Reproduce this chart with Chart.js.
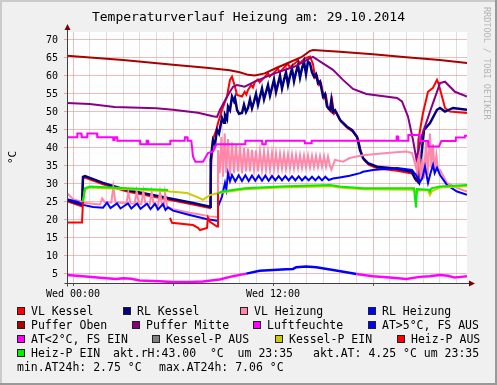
<!DOCTYPE html>
<html>
<head>
<meta charset="utf-8">
<script src="https://cdn.jsdelivr.net/npm/chart.js@4.4.1/dist/chart.umd.min.js"></script>
<style>
body { margin: 0; background: #f0f0f0; }
#wrap { position: relative; width: 497px; height: 385px; font-family: "DejaVu Sans Mono", monospace; }
#chartCanvas { position: absolute; left: 0; top: 0; }
#title { position: absolute; left: 0; top: 9px; width: 497px; text-align: center; font-size: 13px; line-height: 15px; color: #000; }
#side { position: absolute; left: 482px; top: 7px; writing-mode: vertical-rl; font-size: 8.5px; line-height: 9px; color: #b4b4b4; white-space: pre; }
.lg { position: absolute; font-size: 11.5px; line-height: 14px; white-space: pre; color: #000; }
.box { position: absolute; width: 6px; height: 6px; border: 1px solid #222; }
</style>
</head>
<body>
<div id="wrap">
  <canvas id="chartCanvas" width="497" height="385"></canvas>
  <div id="title">Temperaturverlauf Heizung am: 29.10.2014</div>
  <div id="side">RRDTOOL / TOBI OETIKER</div>
  <div id="legend"></div>
</div>
<script>
// time axis in hours since Wed 00:00
var xTickHours = [];
for (h = 0; h <= 23; h++) {
  xTickHours.push(h);
}
var xLabelHours = [0, 12];
var xLabelTexts = ["Wed 00:00", "Wed 12:00"];
var yTickValues = [5, 10, 15, 20, 25, 30, 35, 40, 45, 50, 55, 60, 65, 70];

var legendLabels = ["VL Kessel", "RL Kessel", "VL Heizung", "RL Heizung",
  "Puffer Oben", "Puffer Mitte", "Luftfeuchte", "AT>5°C, FS AUS",
  "AT<2°C, FS EIN", "Kessel-P AUS", "Kessel-P EIN", "Heiz-P AUS", "Heiz-P EIN"];
var legendColors = ["#ff0000", "#000080", "#ff88aa", "#0000ff",
  "#aa0000", "#880088", "#ff00ff", "#0000ff",
  "#ff00ff", "#808080", "#cccc00", "#ff0000", "#00ee00"];
var infoTexts = ["akt.rH:43.00  °C  um 23:35", "akt.AT: 4.25 °C um 23:35",
  "min.AT24h: 2.75 °C", "max.AT24h: 7.06 °C"];

// [hour, value]
var vlKessel = [[-0.36,25.2],[0.54,23.8],[0.6,31.6],[0.72,31.8],[1.8,29.9],[3.24,27.9],[5.22,26.1],[7.2,24.3],[8.22,23.3],
  [8.3,36],[8.4,42.5],[8.6,45],[8.7,46.9],[8.94,50.6],[9.24,54.3],[9.42,58.9],[9.54,59.8],[9.62,58.5],[9.72,57],[9.84,54.7],
  [10.14,54.3],[10.3,55.6],[10.4,54.8],[10.5,56.1],[10.7,57.5],[10.8,56.8],[10.92,58.4],[11.1,59],[11.2,58.2],[11.52,59.8],
  [11.7,60.8],[11.8,59.8],[12.12,61.2],[12.3,62],[12.4,61],[12.72,62.6],[12.9,63.4],[13.0,62.4],[13.32,63.5],[13.5,64.4],
  [13.6,63.5],[13.92,64.9],[14.22,65.4],[14.4,63.3],[14.52,59.5],[14.64,60],[14.76,57.5],[14.88,58],[15.06,53.8],[15.18,54.5],
  [15.3,51],[15.48,50.1],[15.56,52.8],[15.66,49.5],[15.78,50],[16.08,47.3],[16.5,45.4],[16.8,44.5],[17.1,42.6],[17.28,38.9],
  [17.46,36.7],[17.76,35.3],[18.3,34.3],[19.44,33.7],[20.34,32.9],[20.58,31],[20.66,31.5],[20.72,42.2],[21.0,49.7],[21.3,55.6],
  [21.6,56.7],[21.84,58.9],[21.92,58],[22.14,54.3],[22.32,51.1],[22.62,50.1],[23.64,49.7]];
var rlKessel = [[-0.36,25.6],[0.54,24.2],[0.6,32],[0.72,32.2],[1.8,30.3],[3.24,28.3],[5.22,26.5],[7.2,24.7],[8.22,23.7],
  [8.26,36.7],[8.4,42.2],[8.52,41],[8.64,45],[8.76,44],[8.94,48.3],[9.06,47],[9.12,49.2],[9.24,48],[9.3,51.5],[9.42,50.5],
  [9.54,54.3],[9.66,53],[9.72,53.9],[9.84,50.6],[9.96,49.5],[10.14,49.7],[10.26,52],[10.38,50],[10.5,51.1],[10.62,53.5],
  [10.74,51],[10.86,52.9],[10.98,55],[11.1,52],[11.22,54.3],[11.34,56.5],[11.46,53.5],[11.58,55.5],[11.7,57.5],[11.82,54.5],
  [11.94,56.7],[12.06,59],[12.18,55.5],[12.3,57.8],[12.42,60],[12.54,56.5],[12.66,58.9],[12.78,61],[12.9,57.5],[13.02,60],
  [13.14,62],[13.26,58.5],[13.38,61],[13.5,63],[13.62,59.5],[13.74,62.1],[13.86,64],[13.98,60.5],[14.1,64],[14.22,63.5],
  [14.34,61],[14.46,59.8],[14.58,60.5],[14.7,58],[14.82,58.5],[15.0,54.3],[15.12,55],[15.24,51.5],[15.42,50.6],[15.5,53.3],
  [15.6,50],[15.72,50.5],[16.02,47.8],[16.44,45.9],[16.74,45],[17.04,43.1],[17.22,39.4],[17.4,37.2],[17.7,35.8],[18.24,34.8],
  [19.44,34.2],[20.34,33.4],[20.52,31.6],[20.76,30.3],[20.88,37],[21.06,45],[21.42,46.9],[21.84,50.6],[22.02,51.1],
  [22.32,50.1],[22.8,51.1],[23.64,50.6]];
var vlHeizung = [[-0.36,27.5],[0,25.8],[0.54,25.1],[0.6,24.8],[1.2,24.5],[1.62,24.3],[1.75,26],[1.9,25],[2.3,24.8],[2.42,29.2],
  [2.55,24.9],[3.2,24.6],[3.32,27.6],[3.45,24.6],[3.7,24.5],[3.82,28],[3.95,24.5],[4.1,24.4],[4.22,28],[4.35,24.4],[4.6,24.3],
  [4.72,27.8],[4.85,24.2],[5.1,24],[5.22,27.8],[5.35,24],[5.45,23.9],[5.52,27.5],[5.65,23.6],[6.0,23],[7.0,22],[7.62,21.5],
  [8.22,21],[8.64,20.8],[8.7,39.4],[8.8,33],[8.9,43],[9.0,32],[9.1,44],[9.2,33],[9.3,42.5],[9.42,32.5],[9.54,41.5],[9.66,33],
  [9.78,41],[9.9,33.5],[10.02,40.5],[10.14,33],[10.26,40],[10.38,33.5],[10.5,39.8],[10.62,33.5],[10.74,39.5],[10.86,34],
  [10.98,39.3],[11.1,33.5],[11.22,39],[11.34,34],[11.46,39],[11.58,34],[11.7,38.8],[11.82,34],[11.94,38.6],[12.06,34.2],
  [12.18,38.5],[12.3,34.2],[12.42,38.4],[12.54,34.3],[12.66,38.3],[12.78,34.3],[12.9,38.2],[13.02,34.4],[13.14,38.1],
  [13.26,34.4],[13.38,38],[13.5,34.5],[13.62,38],[13.74,34.5],[13.86,37.9],[13.98,34.6],[14.1,37.9],[14.22,34.6],[14.34,37.8],
  [14.46,34.7],[14.58,37.8],[14.7,34.7],[14.82,37.7],[14.94,34.8],[15.06,37.7],[15.18,34.8],[15.3,37.6],[15.42,35],[15.5,34],
  [15.72,36.7],[16.2,36.2],[16.6,37.2],[17.4,38],[19.0,38.7],[20.0,39],[20.34,38.6],[20.46,36.7],[20.64,33.5],[20.76,40],
  [20.86,31],[20.96,37],[21.06,31.5],[21.18,42],[21.28,32.5],[21.42,44],[21.5,34.5],[21.6,41],[21.7,33.5],[21.8,38],[21.9,34],
  [22.02,33.9],[22.44,30.3],[23.04,28.9],[23.64,27.9]];
var rlHeizung = [[-0.36,25.8],[0.3,25],[0.6,24.2],[1.2,23.6],[1.8,23.4],[2.04,24.8],[2.25,23.3],[2.64,24.6],[2.85,23.2],
  [3.3,24.6],[3.5,23.2],[3.84,24.6],[4.05,23.1],[4.44,24.5],[4.65,23],[4.92,24.5],[5.1,22.9],[5.4,24.4],[5.55,22.8],[5.7,23.5],
  [6.0,22.6],[7.0,21.4],[8.0,20.3],[8.64,19.8],[8.7,23.7],[8.94,26.5],[9.12,30.3],[9.2,28.5],[9.3,33],[9.42,30.8],[9.54,32.5],
  [9.74,30.7],[9.94,32.4],[10.14,30.8],[10.34,32.4],[10.54,30.8],[10.74,32.3],[10.94,30.9],[11.14,32.3],[11.34,30.9],
  [11.54,32.3],[11.74,30.9],[11.94,32.2],[12.14,31],[12.34,32.2],[12.54,31],[12.74,32.2],[12.94,31],[13.14,32.1],[13.34,31],
  [13.54,32.1],[13.74,31],[13.94,32],[14.14,31],[14.34,32],[14.54,31],[14.74,32],[14.94,31],[15.14,32],[15.34,31.1],
  [15.6,31.5],[16.0,31.8],[16.6,32.3],[17.22,33],[17.4,33.4],[18.0,33.9],[19.44,34.4],[20.34,33.9],[20.58,32.5],[20.82,30.6],
  [20.95,31.5],[21.12,34.8],[21.3,30.3],[21.45,33],[21.6,35.3],[21.7,33],[21.84,34.5],[22.02,32.5],[22.44,29.7],[23.04,27.9],
  [23.64,27]];
var pufferOben = [[-0.36,65.6],[3,64.4],[6,63.1],[8,62.3],[9.4,61.6],[10,61],[10.5,60.3],[10.9,60.1],[11.5,60.7],[12.2,62.2],
  [13,63.8],[13.7,65.2],[14.2,66.9],[14.4,67.2],[16,66.7],[18,66],[20,65.2],[22,64.4],[23.64,63.6]];
var pufferMitte = [[-0.36,52.5],[1,52.2],[2.5,51.4],[5,51],[6,50.6],[7.5,49.8],[8.4,48.8],[8.64,48.6],[8.82,50.6],[9.3,54.7],
  [9.6,57],[9.84,57.5],[10.3,57],[10.9,58.4],[12.1,60.7],[13.3,62.6],[14.2,64.9],[14.4,65.3],[15.0,63.5],[15.6,61.7],
  [16.2,58.9],[16.8,56.4],[17.6,55],[19.44,53.9],[19.74,52.9],[20.1,48.7],[20.4,42.2],[20.6,37],[20.76,40],[20.9,43],
  [21.42,50.1],[22.02,58],[22.32,58.4],[22.92,55.6],[23.64,54.3]];
var luftfeuchte = [[-0.36,43],[0.24,43],[0.26,44],[0.5,44],[0.52,43],[0.84,43],[0.86,44],[1.44,44],[1.46,43],[2.4,43],
  [2.42,42.2],[2.5,42.2],[2.52,43],[2.64,43],[2.66,42],[4.02,42],[4.04,41],[4.4,41],[4.42,42],[4.5,42],[4.52,41],[5.82,41],
  [5.84,42],[6.7,42],[6.72,43],[6.86,43],[6.88,42],[7.1,42],[7.2,37.6],[7.34,36.2],[7.8,36.2],[8.1,38.6],[8.4,39],[8.6,41],
  [10.32,41],[10.34,42],[11.34,42],[11.36,41],[11.56,41],[11.58,42],[13.9,42],[13.92,41.3],[14.3,41.3],[14.32,42],[19.4,42],
  [19.42,43.2],[19.5,43.2],[19.52,42],[20.1,42],[20.12,43.6],[20.8,43.6],[20.82,41.9],[21.3,41.9],[21.32,40.4],[21.96,40.4],
  [22.1,41.9],[22.96,41.9],[22.98,42.9],[23.5,42.9],[23.52,43.4],[23.64,43.4]];
var aussenTemp = [[-0.36,4.7],[0.6,4.4],[1.8,3.9],[2.6,3.6],[3.0,3.8],[3.5,3.7],[4.0,3.2],[5.2,3.0],[6.0,2.75],[7.0,2.8],
  [7.8,2.95],[8.8,3.5],[9.6,4.4],[10.4,5.1],[11.2,5.9],[12.0,6.1],[12.8,6.3],[13.2,6.4],[13.4,6.9],[14.0,7.06],[14.6,6.9],
  [15.6,6.1],[16.4,5.5],[17.0,5.0],[18.0,4.4],[19.0,4.0],[20.0,3.6],[20.8,4.2],[21.4,4.4],[22.0,4.7],[22.5,4.5],[22.9,4.0],
  [23.3,4.2],[23.64,4.4]];
var kesselPEin = [[0.6,25],[0.72,28.5],[1.02,29],[3.24,28.5],[5.7,28],[5.82,27.9],[6.84,27.5],[7.5,26.3],[7.8,25.6],[7.92,26],
  [8.22,26.9],[8.64,27.4],[8.94,27.6],[10.32,28.5],[12.42,29],[15.42,29.4],[16,29],[17.4,28.5],[20.34,28.4],[20.52,28.2],
  [20.6,27.4],[20.7,28.2],[21.3,28.3],[21.42,26.9],[21.54,28],[22.02,29],[23.64,29.4]];
var kesselPAus = [];
// [hour, value, pump on]
var heizP = [[-0.36,19.3,0],[0.54,19.3,0],[0.6,25.1,1],[0.72,28.8,1],[1.02,29.3,1],[3.24,28.8,1],[5.7,28.3,1],[5.76,null,1],
  [5.82,20.6,0],[5.94,19.2,0],[7.2,18.6,0],[7.5,17.8,0],[7.62,17.2,0],[8.04,17.8,0],[8.1,20.6,0],[8.22,19.5,0],[8.64,18.2,0],
  [8.7,27.4,1],[8.94,27.9,1],[10.32,28.8,1],[12.42,29.3,1],[15.42,29.7,1],[16.0,29.3,1],[17.4,28.8,1],[20.46,28.8,1],
  [20.52,26,1],[20.58,23.5,1],[20.64,28.6,1],[21.36,28.4,1],[21.42,27.9,1],[21.5,28.8,1],[22.02,29.3,1],[23.64,29.7,1]];

// legend layout: [box x, row]
var legendPos = [[17,0],[123,0],[240,0],[368,0],[17,1],[132,1],[253,1],[368,1],[17,2],[152,2],[275,2],[397,2],[17,3]];
var infoPos = [[113,3],[313,3],[17,4],[159,4]];

var legendBox = document.getElementById("legend");
legendLabels.forEach(function (label, i) {
  var bx = legendPos[i][0], row = legendPos[i][1];
  var box = document.createElement("div");
  box.className = "box";
  box.style.left = bx + "px";
  box.style.top = (307 + row * 14) + "px";
  box.style.background = legendColors[i];
  legendBox.appendChild(box);
  var txt = document.createElement("div");
  txt.className = "lg";
  txt.style.left = (bx + 14) + "px";
  txt.style.top = (304 + row * 14) + "px";
  txt.textContent = label;
  legendBox.appendChild(txt);
});
infoTexts.forEach(function (t, i) {
  var txt = document.createElement("div");
  txt.className = "lg";
  txt.style.left = infoPos[i][0] + "px";
  txt.style.top = (304 + infoPos[i][1] * 14) + "px";
  txt.textContent = t;
  legendBox.appendChild(txt);
});

function toPoints(arr) {
  return arr.map(function (p) { return { x: p[0], y: p[1] }; });
}
function line(label, arr, color, width, extra) {
  return Object.assign({
    label: label,
    data: toPoints(arr),
    borderColor: color,
    backgroundColor: color,
    borderWidth: width,
    pointRadius: 0,
    tension: 0,
    fill: false
  }, extra || {});
}

var datasets = [
  line("VL Kessel", vlKessel, legendColors[0], 2),
  line("RL Kessel", rlKessel, legendColors[1], 2.5),
  line("VL Heizung", vlHeizung, legendColors[2], 2),
  line("RL Heizung", rlHeizung, legendColors[3], 2),
  line("Puffer Oben", pufferOben, legendColors[4], 2),
  line("Puffer Mitte", pufferMitte, legendColors[5], 2),
  line("Luftfeuchte", luftfeuchte, legendColors[6], 2),
  line("AT", aussenTemp, legendColors[8], 2.5, {
    segment: {
      borderColor: function (c) {
        return (c.p0.parsed.y + c.p1.parsed.y) / 2 >= 5 ? legendColors[7] : legendColors[8];
      }
    }
  }),
  line("Kessel-P AUS", kesselPAus, legendColors[9], 2),
  line("Kessel-P EIN", kesselPEin, legendColors[10], 2),
  line("Heiz-P", heizP, legendColors[12], 2, {
    segment: {
      borderColor: function (c) {
        return heizP[c.p0DataIndex][2] ? legendColors[12] : legendColors[11];
      }
    }
  })
];
// later legend entries are drawn on top
datasets.forEach(function (d, i) { d.order = datasets.length - i; });

var rrdFrame = {
  id: "rrdFrame",
  beforeDraw: function (chart) {
    var ctx = chart.ctx, a = chart.chartArea, w = chart.width, h = chart.height;
    ctx.save();
    ctx.fillStyle = "#f0f0f0";
    ctx.fillRect(0, 0, w, h);
    ctx.fillStyle = "#cbcbcb";
    ctx.fillRect(0, 0, w, 2);
    ctx.fillRect(0, 0, 2, h);
    ctx.fillStyle = "#999999";
    ctx.fillRect(0, h - 2, w, 2);
    ctx.fillRect(w - 2, 0, 2, h);
    ctx.fillStyle = "#ffffff";
    ctx.fillRect(a.left, a.top, a.right - a.left, a.bottom - a.top);
    ctx.restore();
  },
  afterDraw: function (chart) {
    var ctx = chart.ctx, a = chart.chartArea;
    var x0 = Math.round(a.left) + 0.5, y0 = Math.round(a.bottom) + 0.5;
    ctx.save();
    ctx.strokeStyle = "#404040";
    ctx.lineWidth = 1;
    ctx.beginPath();
    ctx.moveTo(x0, y0 + 3);
    ctx.lineTo(x0, a.top - 3);
    ctx.moveTo(x0 - 3, y0);
    ctx.lineTo(a.right + 3, y0);
    ctx.stroke();
    ctx.fillStyle = "#7f0000";
    ctx.beginPath();
    ctx.moveTo(x0, a.top - 8);
    ctx.lineTo(x0 - 3, a.top - 2);
    ctx.lineTo(x0 + 3, a.top - 2);
    ctx.closePath();
    ctx.fill();
    ctx.beginPath();
    ctx.moveTo(a.right + 8, y0);
    ctx.lineTo(a.right + 2, y0 - 3);
    ctx.lineTo(a.right + 2, y0 + 3);
    ctx.closePath();
    ctx.fill();
    ctx.restore();
  }
};

var monoFont = "'DejaVu Sans Mono', monospace";
var canvas = document.getElementById("chartCanvas");
var tempChart = new Chart(canvas, {
  type: "line",
  data: { datasets: datasets },
  options: {
    responsive: false,
    animation: false,
    events: [],
    layout: { padding: { top: 32, left: 0, right: 30, bottom: 82 } },
    plugins: { legend: { display: false }, tooltip: { enabled: false } },
    scales: {
      x: {
        type: "linear",
        min: -0.36,
        max: 23.64,
        afterBuildTicks: function (s) { s.ticks = xTickHours.map(function (v) { return { value: v }; }); },
        afterFit: function (s) { s.height = 20; },
        border: { display: false },
        grid: {
          lineWidth: 1,
          tickLength: 3,
          color: function (c) {
            return c.tick && c.tick.value % 6 === 0 ? "rgba(238,130,130,0.55)" : "rgba(180,180,180,0.45)";
          },
          tickColor: function (c) {
            return c.tick && c.tick.value % 6 === 0 ? "#555555" : "rgba(0,0,0,0)";
          }
        },
        ticks: {
          autoSkip: false,
          maxRotation: 0,
          minRotation: 0,
          padding: 2,
          color: "#000",
          font: { family: monoFont, size: 10 },
          callback: function (v) {
            var i = xLabelHours.indexOf(v);
            return i >= 0 ? xLabelTexts[i] : "";
          }
        }
      },
      y: {
        min: 2.5,
        max: 72.2,
        afterBuildTicks: function (s) { s.ticks = yTickValues.map(function (v) { return { value: v }; }); },
        afterFit: function (s) { s.width = 67; },
        border: { display: false },
        grid: { color: "rgba(238,130,130,0.55)", tickLength: 3, tickColor: "rgba(238,130,130,0.7)" },
        ticks: { padding: 6, color: "#000", font: { family: monoFont, size: 10 } },
        title: {
          display: true,
          text: "°C",
          color: "#000",
          font: { family: monoFont, size: 11 },
          padding: { top: 7, bottom: 0 }
        }
      }
    }
  },
  plugins: [rrdFrame]
});
</script>
</body>
</html>
